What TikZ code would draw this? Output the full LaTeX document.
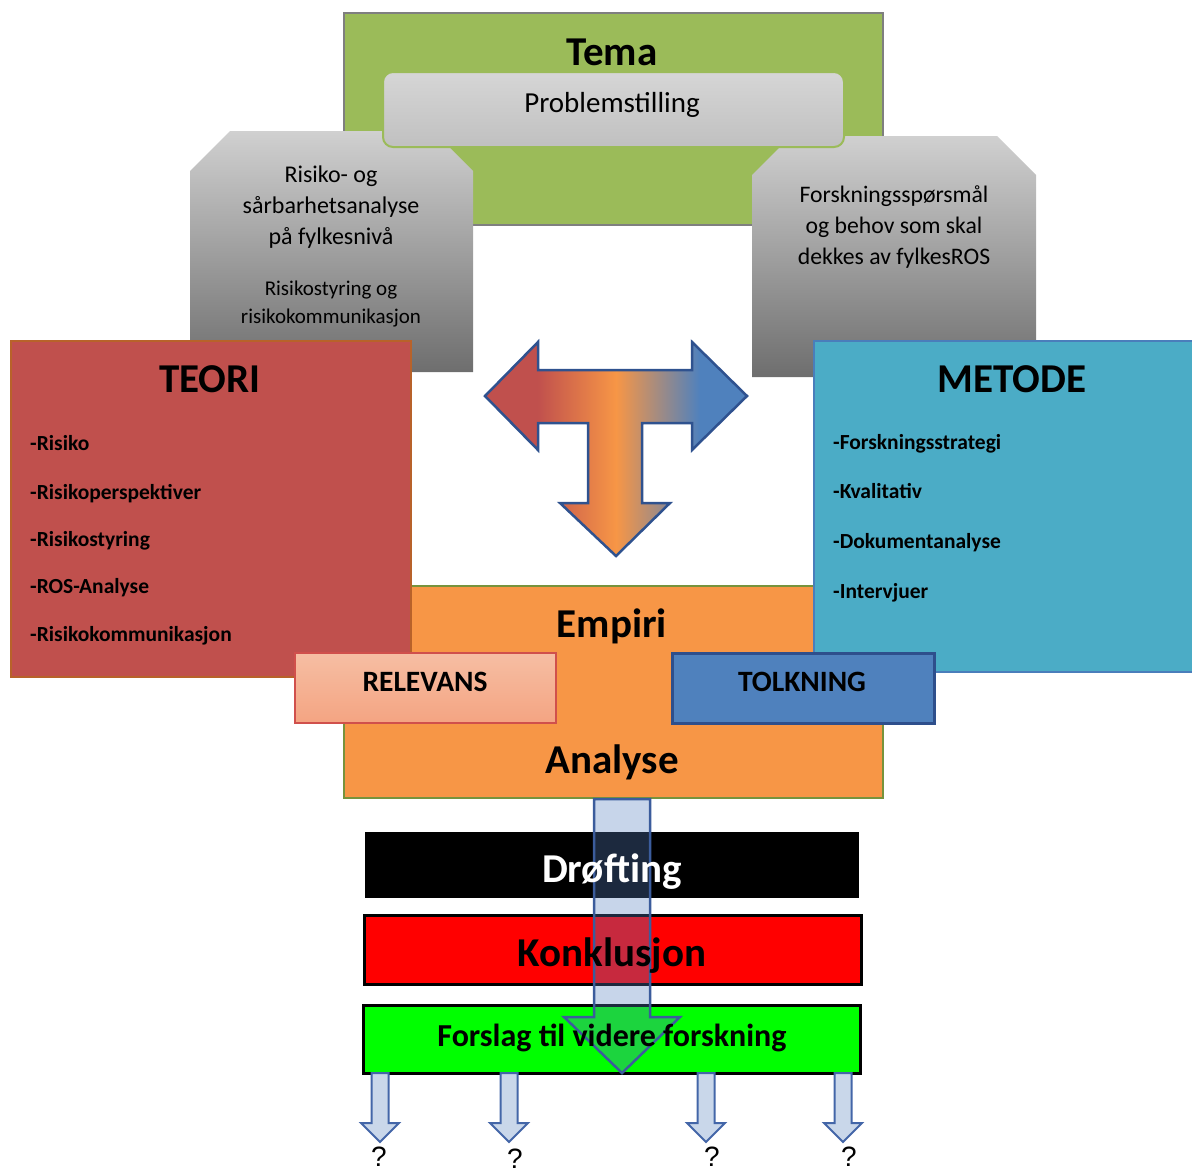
\documentclass[tikz,border=0pt]{standalone}
\usepackage{fontspec}
\setmainfont{Carlito}
\newfontfamily\qfont{Liberation Sans}
\usepackage{tikz}

\definecolor{temagreen}{HTML}{9BBB59}
\definecolor{temaline}{HTML}{7F7F7F}
\definecolor{probtop}{HTML}{D6D6D6}
\definecolor{probbot}{HTML}{C0C0C0}
\definecolor{greytop}{HTML}{D0D0D0}
\definecolor{greybot}{HTML}{6E6E6E}
\definecolor{teorired}{HTML}{C0504D}
\definecolor{teoriline}{HTML}{B8622A}
\definecolor{metodeblue}{HTML}{4BACC6}
\definecolor{metodeline}{HTML}{4A7EBB}
\definecolor{empiriorange}{HTML}{F79646}
\definecolor{empiriline}{HTML}{77933C}
\definecolor{relevtop}{HTML}{F6BEA3}
\definecolor{relevbot}{HTML}{F4A482}
\definecolor{relevline}{HTML}{D0504C}
\definecolor{tolkblue}{HTML}{4F81BD}
\definecolor{tolkline}{HTML}{2E4F8C}
\definecolor{tline}{HTML}{2F528F}
\definecolor{downfill}{HTML}{557FBE}
\definecolor{downline}{HTML}{3B5C9C}
\definecolor{smallfill}{HTML}{C9D7EA}
\definecolor{smallline}{HTML}{4366A8}
\definecolor{konred}{HTML}{FF0000}
\definecolor{forgreen}{HTML}{00FF00}

\pgfdeclarehorizontalshading{tshade}{100bp}{color(0bp)=(teorired); color(35bp)=(teorired); color(50bp)=(empiriorange); color(66bp)=(tolkblue); color(100bp)=(tolkblue)}

\begin{document}
\begin{tikzpicture}[x=1pt,y=-1pt]
  \tikzset{box/.style = {shape=rectangle,anchor=north west,inner sep=0pt}}
  \tikzset{title/.style = {font=\bfseries\fontsize{41}{49}\selectfont,anchor=base,inner sep=0pt}}
  \tikzset{tag/.style = {font=\bfseries\fontsize{29.5}{35}\selectfont,anchor=base,inner sep=0pt}}
  \tikzset{item/.style = {font=\bfseries\fontsize{21.5}{26}\selectfont,anchor=base west,inner sep=0pt}}
  \tikzset{greytext/.style = {align=center,inner sep=0pt}}
  \tikzset{smallarrow/.style = {fill=smallfill,draw=smallline,line width=2}}
  \tikzset{question/.style = {font=\qfont\fontsize{28}{34}\selectfont,anchor=base,inner sep=0pt}}
  \useasboundingbox (0,0) rectangle (1192,1173);

	% top part
	\node[box,fill=temagreen,draw=temaline,line width=2,minimum width=539,minimum height=212] (tema) at (343,12) {};
	\shade[top color=greytop,bottom color=greybot] (190,171) -- (230,131) -- (433,131) -- (473,171) -- (473,372) -- (190,372) -- cycle;
	\shade[top color=greytop,bottom color=greybot] (752,175) -- (791,136) -- (997,136) -- (1036,175) -- (1036,377) -- (752,377) -- cycle;
	\node[box,rounded corners=10,draw=temagreen,line width=2,top color=probtop,bottom color=probbot,minimum width=461,minimum height=75] (prob) at (382,71) {};

	\node[title] (tematxt) at (612,65) {Tema};
	\node[font=\fontsize{29}{35}\selectfont,anchor=base,inner sep=0pt] (probtxt) at (612,112) {Problemstilling};
	\node[greytext,font=\fontsize{24}{31}\selectfont] (ros) at (331,207) {Risiko- og\\sårbarhetsanalyse\\på fylkesnivå};
	\node[greytext,font=\fontsize{21}{28}\selectfont] (styring) at (331,304) {Risikostyring og\\risikokommunikasjon};
	\node[greytext,font=\fontsize{23.7}{31}\selectfont] (sporsmal) at (894,227) {Forskningsspørsmål\\og behov som skal\\dekkes av fylkesROS};

	% T arrow
	\shadedraw[shading=tshade,draw=tline,line width=2.5,line join=miter]
	  (485,396) -- (538,342) -- (538,370) -- (692,370) -- (692,342) -- (747,396) -- (692,450) -- (692,423)
	  -- (642,423) -- (642,503) -- (670,503) -- (616,556) -- (560,503) -- (588,503) -- (588,423)
	  -- (538,423) -- (538,450) -- cycle;

	% middle part
	\node[box,fill=empiriorange,draw=empiriline,line width=2,minimum width=539,minimum height=212] (empiri) at (343,585) {};
	\node[box,fill=teorired,draw=teoriline,line width=2,minimum width=400,minimum height=336] (teori) at (10,340) {};
	\node[box,fill=metodeblue,draw=metodeline,line width=2,minimum width=381,minimum height=331] (metode) at (813,340) {};
	\node[box,draw=relevline,line width=2,top color=relevtop,bottom color=relevbot,minimum width=261,minimum height=70] (relevans) at (294,652) {};
	\node[box,fill=tolkblue,draw=tolkline,line width=2.5,minimum width=262,minimum height=70] (tolkning) at (671,652) {};

	\node[title] (teorititle) at (210,392) {TEORI};
	\node[item] (t1) at (30,450) {-Risiko};
	\node[item] (t2) at (30,499) {-Risikoperspektiver};
	\node[item] (t3) at (30,546) {-Risikostyring};
	\node[item] (t4) at (30,593) {-ROS-Analyse};
	\node[item] (t5) at (30,641) {-Risikokommunikasjon};

	\node[title] (metodetitle) at (1012,392) {METODE};
	\node[item] (m1) at (833,449) {-Forskningsstrategi};
	\node[item] (m2) at (833,498) {-Kvalitativ};
	\node[item] (m3) at (833,548) {-Dokumentanalyse};
	\node[item] (m4) at (833,598) {-Intervjuer};

	\node[title] (empiritxt) at (612,637) {Empiri};
	\node[title] (analysetxt) at (612,773) {Analyse};
	\node[tag] (relevanstxt) at (425,691) {RELEVANS};
	\node[tag] (tolkningtxt) at (802,691) {TOLKNING};

	% bottom part
	\node[box,fill=black,minimum width=494,minimum height=66] (drofting) at (365,832) {};
	\node[box,fill=konred,draw=black,line width=3,minimum width=497,minimum height=69] (konklusjon) at (363,914) {};
	\node[box,fill=forgreen,draw=black,line width=3,minimum width=497,minimum height=68] (forslag) at (362,1004) {};

	\filldraw[fill=downfill,fill opacity=0.33,draw=downline,line width=2.5]
	  (594,799) -- (650,799) -- (650,1017) -- (680,1017) -- (622,1073) -- (564,1017) -- (594,1017) -- cycle;

	\node[title,text=white] (droftingtxt) at (612,882) {Drøfting};
	\node[title] (konklusjontxt) at (612,966) {Konklusjon};
	\node[font=\bfseries\fontsize{32}{38}\selectfont,anchor=base,inner sep=0pt] (forslagtxt) at (612,1046) {Forslag til videre forskning};

	\foreach \x in {380,509,706,843}
	  \draw[smallarrow] (\x-8.5,1073) -- (\x+8.5,1073) -- (\x+8.5,1123) -- (\x+19,1123) -- (\x,1142) -- (\x-19,1123) -- (\x-8.5,1123) -- cycle;

	\node[question] (q1) at (379,1166) {?};
	\node[question] (q2) at (515,1168) {?};
	\node[question] (q3) at (712,1166) {?};
	\node[question] (q4) at (849,1166) {?};
\end{tikzpicture}
\end{document}
